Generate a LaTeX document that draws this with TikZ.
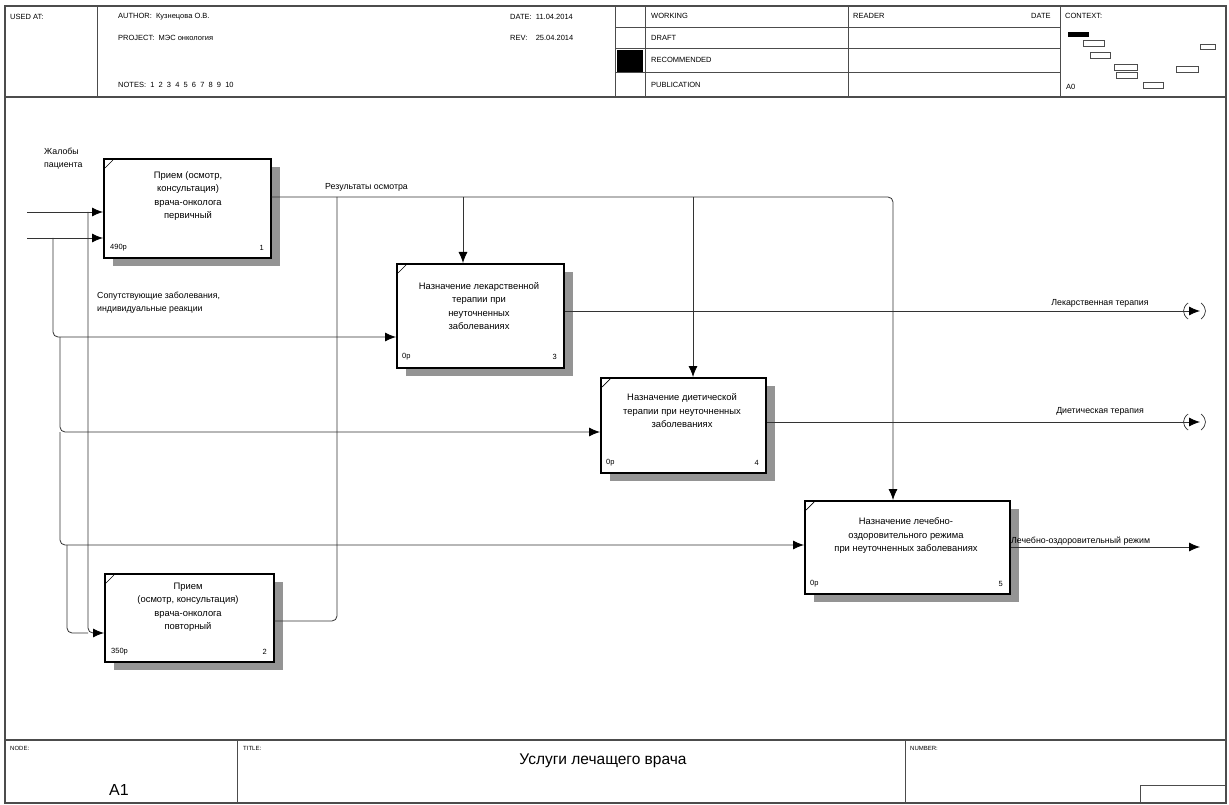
\documentclass[tikz,border=0pt]{standalone}
\usepackage{fontspec}
\setmainfont{Liberation Sans}
\usetikzlibrary{arrows.meta,shadows}
\begin{document}
\begin{tikzpicture}[x=1pt,y=-1pt,
  frame/.style={draw=black!70,line width=1.2pt},
  thin/.style={draw=black!70,line width=0.6pt},
  hdr/.style={font=\fontsize{7.5}{9}\selectfont,anchor=west,inner sep=0pt},
  fnbox/.style={draw=black,line width=1.6pt,fill=white,inner sep=0pt,anchor=north west,
    drop shadow={shadow xshift=9pt,shadow yshift=-8pt,fill=black!42,opacity=1}},
  boxtxt/.style={font=\fontsize{9.4}{13.5}\selectfont,align=center,inner sep=0pt},
  small/.style={font=\fontsize{7.5}{9}\selectfont,inner sep=0pt},
  lbl/.style={font=\fontsize{8.8}{13}\selectfont,inner sep=0pt,align=left},
  conn/.style={draw=black!80,line width=0.8pt,rounded corners=5pt},
  arr/.style={conn,-{Latex[length=11pt,width=9pt,fill=black,color=black]}},
  tun/.style={draw=black!80,line width=0.7pt}]
\useasboundingbox (0,0) rectangle (1229,805);
\fill[white] (0,0) rectangle (1229,805);
% ---------- frame ----------
\draw[frame] (5,6) rectangle (1226,803);
\draw[frame] (5,97) -- (1226,97);
\draw[frame] (5,740) -- (1226,740);
% header dividers
\draw[thin] (97,6) -- (97,97);
\draw[thin] (615,6) -- (615,97);
\draw[thin] (645,6) -- (645,97);
\draw[thin] (848,6) -- (848,97);
\draw[thin] (1060,6) -- (1060,97);
\draw[thin] (615,27) -- (1060,27);
\draw[thin] (615,48) -- (1060,48);
\draw[thin] (615,72) -- (1060,72);
\fill[black] (617,50) rectangle (643,72);
% header texts
\node[hdr] (usedat) at (10,17) {USED AT:};
\node[hdr] (author) at (118,17) {AUTHOR:\ \ Кузнецова О.В.};
\node[hdr] (project) at (118,38) {PROJECT:\ \ МЭС онкология};
\node[hdr] (notes) at (118,85) {NOTES:\ \ 1\ \ 2\ \ 3\ \ 4\ \ 5\ \ 6\ \ 7\ \ 8\ \ 9\ \ 10};
\node[hdr] (date) at (510,17) {DATE:\ \ 11.04.2014};
\node[hdr] (rev) at (510,38) {REV:\ \ \ \ 25.04.2014};
\node[hdr] (working) at (651,16) {WORKING};
\node[hdr] (draft) at (651,38) {DRAFT};
\node[hdr] (recom) at (651,60) {RECOMMENDED};
\node[hdr] (publ) at (651,85) {PUBLICATION};
\node[hdr] (reader) at (853,16) {READER};
\node[hdr] (rdate) at (1031,16) {DATE};
\node[hdr] (context) at (1065,16) {CONTEXT:};
\node[hdr] (a0) at (1066,87) {A0};
% context miniature
\fill[black] (1068,32) rectangle (1089,37);
\draw[thin,line width=0.5pt] (1083,40) rectangle (1104,46);
\draw[thin,line width=0.5pt] (1090,52) rectangle (1110,58);
\draw[thin,line width=0.5pt] (1114,64) rectangle (1137,70);
\draw[thin,line width=0.5pt] (1116,72) rectangle (1137,78);
\draw[thin,line width=0.5pt] (1143,82) rectangle (1163,88);
\draw[thin,line width=0.5pt] (1176,66) rectangle (1198,72);
\draw[thin,line width=0.5pt] (1200,44) rectangle (1215,49);
% footer
\draw[thin] (237,740) -- (237,803);
\draw[thin] (905,740) -- (905,803);
\draw[thin] (1140,803) -- (1140,785) -- (1226,785);
\node[hdr,font=\fontsize{6}{7}\selectfont] (nodelbl) at (10,748) {NODE:};
\node[hdr,font=\fontsize{6}{7}\selectfont] (titlelbl) at (243,748) {TITLE:};
\node[hdr,font=\fontsize{6}{7}\selectfont] (numlbl) at (910,748) {NUMBER:};
\node[inner sep=0pt,font=\fontsize{16}{18}\selectfont] (nodeid) at (119,790) {A1};
\node[inner sep=0pt,font=\fontsize{15.5}{18}\selectfont] (title) at (603,761) {Услуги лечащего врача};
% ---------- function boxes ----------
\node[fnbox,minimum width=167pt,minimum height=99pt] (b1) at (103,158) {};
\node[fnbox,minimum width=169pt,minimum height=88pt] (b2) at (104,573) {};
\node[fnbox,minimum width=167pt,minimum height=104pt] (b3) at (396,263) {};
\node[fnbox,minimum width=165pt,minimum height=95pt] (b4) at (600,377) {};
\node[fnbox,minimum width=205pt,minimum height=93pt] (b5) at (804,500) {};
% corner ticks
\foreach \b in {b1,b2,b3,b4,b5}{
  \draw[line width=0.7pt] ([shift={(2,10)}]\b.north west) -- ([shift={(10,2)}]\b.north west);
}
% box texts
\node[boxtxt] (b1t) at (188,196) {Прием (осмотр,\\консультация)\\врача-онколога\\первичный};
\node[boxtxt] (b2t) at (188,607) {Прием\\(осмотр, консультация)\\врача-онколога\\повторный};
\node[boxtxt] (b3t) at (479,306) {Назначение лекарственной\\терапии при\\неуточненных\\заболеваниях};
\node[boxtxt] (b4t) at (682,411) {Назначение диетической\\терапии при неуточненных\\заболеваниях};
\node[boxtxt] (b5t) at (906,536) {Назначение лечебно-\\оздоровительного режима\\при неуточненных заболеваниях};
% cost / number
\node[small,anchor=west] (b1c) at (110,248) {490р};
\node[small,anchor=east] (b1n) at (264,248) {1};
\node[small,anchor=west] (b2c) at (111,652) {350р};
\node[small,anchor=east] (b2n) at (267,652) {2};
\node[small,anchor=west] (b3c) at (402,357) {0р};
\node[small,anchor=east] (b3n) at (557,357) {3};
\node[small,anchor=west] (b4c) at (606,463) {0р};
\node[small,anchor=east] (b4n) at (759,463) {4};
\node[small,anchor=west] (b5c) at (810,584) {0р};
\node[small,anchor=east] (b5n) at (1003,584) {5};
% ---------- connectors ----------
\coordinate (j0) at (27,212);
\coordinate (s0) at (27,238);
\coordinate (jb) at (88,212);
\coordinate (sb) at (53,238);
\coordinate (sc) at (60,337);
\coordinate (sd) at (60,432);
\coordinate (se) at (67,545);
\coordinate (r1) at (463,197);
\coordinate (r2) at (693,197);
\coordinate (r3) at (893,197);
\coordinate (rv) at (337,197);
\coordinate (o3) at (1200,311);
\coordinate (o4) at (1200,422);
\coordinate (o5) at (1200,547);
% inputs
\draw[arr] (j0) -- (j0 -| b1.west);
\draw[arr] (s0) -- (s0 -| b1.west);
\draw[arr] (jb) -- (88,633) -- (b2.west |- 0,633);
\draw[conn] (se) -- (67,633) -- (88,633);
\draw[arr] (sb) -- (53,337) -- (b3.west |- 0,337);
\draw[arr] (sc) -- (60,432) -- (b4.west |- 0,432);
\draw[arr] (sd) -- (60,545) -- (b5.west |- 0,545);
% controls from results
\draw[arr] (b1.east |- 0,197) -- (r3) -- (b5.north -| r3);
\draw[arr] (r1) -- (b3.north -| r1);
\draw[arr] (r2) -- (b4.north -| r2);
\draw[conn] (b2.east |- 0,621) -- (337,621) -- (rv);
% outputs
\draw[arr] (b3.east |- o3) -- (o3);
\draw[arr] (b4.east |- o4) -- (o4);
\draw[arr] (b5.east |- o5) -- (o5);
% tunnel marks
\draw[tun] (1188,303) .. controls (1182,308) and (1182,314) .. (1188,319);
\draw[tun] (1201,303) .. controls (1207,308) and (1207,314) .. (1201,319);
\draw[tun] (1188,414) .. controls (1182,419) and (1182,425) .. (1188,430);
\draw[tun] (1201,414) .. controls (1207,419) and (1207,425) .. (1201,430);
% arrow labels
\node[lbl,anchor=west] (l1) at (44,159) {Жалобы\\пациента};
\node[lbl,anchor=west] (l2) at (325,187) {Результаты осмотра};
\node[lbl,anchor=west] (l3) at (97,303) {Сопутствующие заболевания,\\индивидуальные реакции};
\node[lbl] (l4) at (1100,303) {Лекарственная терапия};
\node[lbl] (l5) at (1100,411) {Диетическая терапия};
\node[lbl,anchor=west] (l6) at (1011,541) {Лечебно-оздоровительный режим};
\end{tikzpicture}
\end{document}
